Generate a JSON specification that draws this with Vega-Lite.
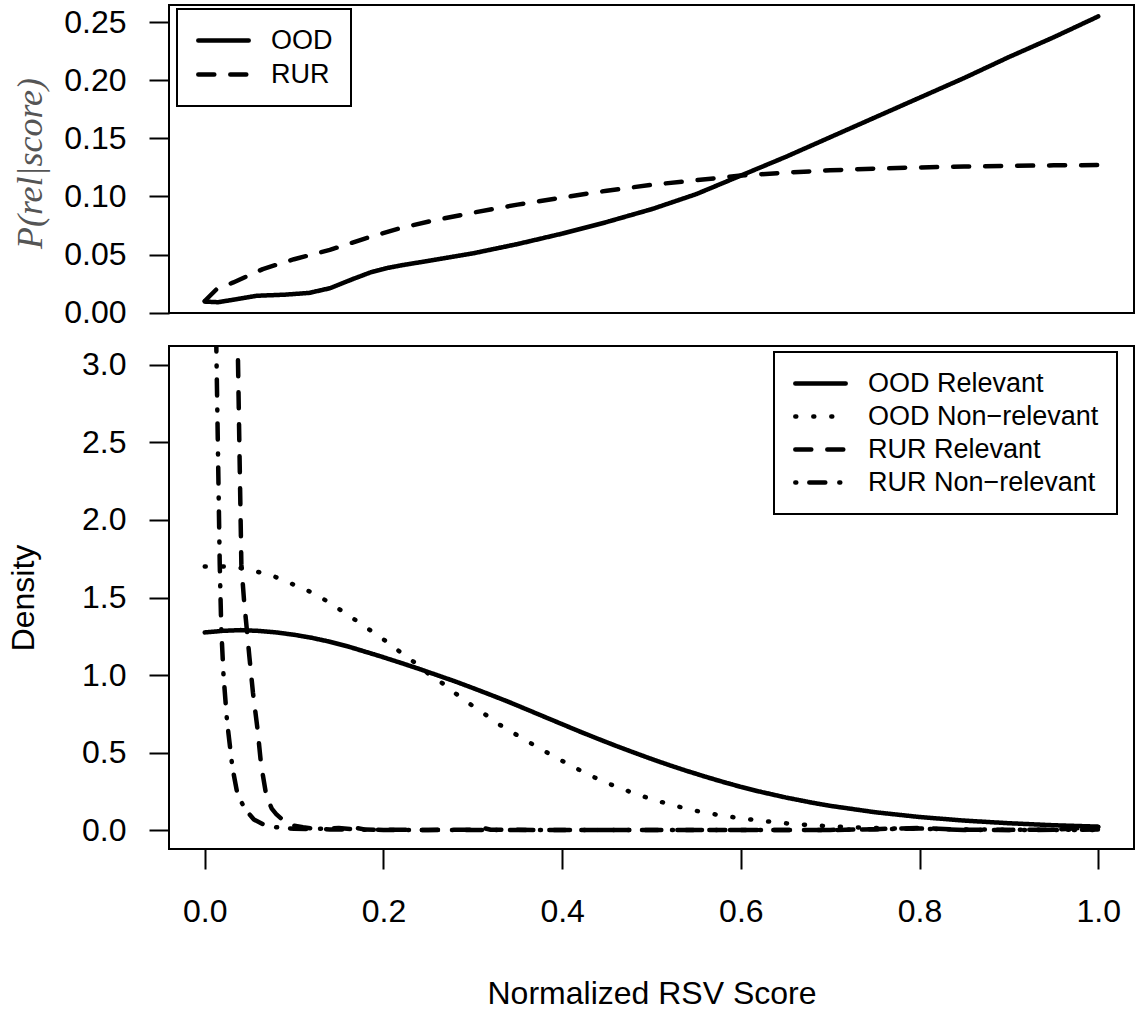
{
  "$schema": "https://vega.github.io/schema/vega-lite/v6.json",
  "padding": {"left": 6, "top": 4, "right": 4, "bottom": 0},
  "background": "white",
  "spacing": 15,
  "config": {
    "view": {"stroke": "black", "strokeWidth": 2},
    "font": "Liberation Sans",
    "axis": {
      "labelFont": "Liberation Sans", "labelFontSize": 32, "labelColor": "black",
      "tickColor": "black", "tickWidth": 2, "tickSize": 20, "domain": false, "grid": false,
      "titleFont": "Liberation Sans", "titleFontSize": 32, "titleFontWeight": "normal", "titleColor": "black",
      "labelFlush": false, "labelOverlap": false, "labelBound": false
    },
    "legend": {
      "title": null, "strokeColor": "black", "padding": 18,
      "symbolType": "M-3.6,0H3.6", "symbolSize": 196, "symbolStrokeWidth": 4.5,
      "symbolStrokeColor": "black", "symbolFillColor": "transparent",
      "symbolOffset": 15, "labelOffset": 34, "labelFontSize": 27, "labelFont": "Liberation Sans",
      "labelColor": "black", "labelLimit": 0, "rowPadding": 6, "orient": "none"
    }
  },
  "resolve": {"scale": {"strokeDash": "independent", "x": "independent", "y": "independent"}, "legend": {"strokeDash": "independent"}},
  "datasets": {
    "prob": [
      {"score": 0, "p": 0.0095, "method": "OOD"},
      {"score": 0.015, "p": 0.009, "method": "OOD"},
      {"score": 0.035, "p": 0.0115, "method": "OOD"},
      {"score": 0.058, "p": 0.0145, "method": "OOD"},
      {"score": 0.09, "p": 0.0155, "method": "OOD"},
      {"score": 0.117, "p": 0.017, "method": "OOD"},
      {"score": 0.14, "p": 0.021, "method": "OOD"},
      {"score": 0.166, "p": 0.029, "method": "OOD"},
      {"score": 0.185, "p": 0.0345, "method": "OOD"},
      {"score": 0.205, "p": 0.0385, "method": "OOD"},
      {"score": 0.222, "p": 0.041, "method": "OOD"},
      {"score": 0.25, "p": 0.0445, "method": "OOD"},
      {"score": 0.3, "p": 0.051, "method": "OOD"},
      {"score": 0.35, "p": 0.059, "method": "OOD"},
      {"score": 0.4, "p": 0.068, "method": "OOD"},
      {"score": 0.45, "p": 0.078, "method": "OOD"},
      {"score": 0.5, "p": 0.089, "method": "OOD"},
      {"score": 0.55, "p": 0.102, "method": "OOD"},
      {"score": 0.6, "p": 0.118, "method": "OOD"},
      {"score": 0.65, "p": 0.134, "method": "OOD"},
      {"score": 0.7, "p": 0.151, "method": "OOD"},
      {"score": 0.75, "p": 0.168, "method": "OOD"},
      {"score": 0.8, "p": 0.185, "method": "OOD"},
      {"score": 0.85, "p": 0.202, "method": "OOD"},
      {"score": 0.9, "p": 0.22, "method": "OOD"},
      {"score": 0.95, "p": 0.237, "method": "OOD"},
      {"score": 1.0, "p": 0.255, "method": "OOD"},
      {"score": 0, "p": 0.01, "method": "RUR"},
      {"score": 0.013, "p": 0.02, "method": "RUR"},
      {"score": 0.032, "p": 0.026, "method": "RUR"},
      {"score": 0.065, "p": 0.0375, "method": "RUR"},
      {"score": 0.1, "p": 0.046, "method": "RUR"},
      {"score": 0.14, "p": 0.054, "method": "RUR"},
      {"score": 0.18, "p": 0.064, "method": "RUR"},
      {"score": 0.22, "p": 0.073, "method": "RUR"},
      {"score": 0.26, "p": 0.08, "method": "RUR"},
      {"score": 0.3, "p": 0.086, "method": "RUR"},
      {"score": 0.35, "p": 0.093, "method": "RUR"},
      {"score": 0.4, "p": 0.099, "method": "RUR"},
      {"score": 0.45, "p": 0.105, "method": "RUR"},
      {"score": 0.5, "p": 0.11, "method": "RUR"},
      {"score": 0.55, "p": 0.114, "method": "RUR"},
      {"score": 0.6, "p": 0.118, "method": "RUR"},
      {"score": 0.65, "p": 0.1205, "method": "RUR"},
      {"score": 0.7, "p": 0.1225, "method": "RUR"},
      {"score": 0.75, "p": 0.124, "method": "RUR"},
      {"score": 0.8, "p": 0.125, "method": "RUR"},
      {"score": 0.85, "p": 0.1258, "method": "RUR"},
      {"score": 0.9, "p": 0.1263, "method": "RUR"},
      {"score": 0.95, "p": 0.1268, "method": "RUR"},
      {"score": 1.0, "p": 0.127, "method": "RUR"}
    ],
    "dens": [
      {"score": 0, "density": 1.275, "series": "OOD Relevant"},
      {"score": 0.02, "density": 1.285, "series": "OOD Relevant"},
      {"score": 0.04, "density": 1.29, "series": "OOD Relevant"},
      {"score": 0.06, "density": 1.285, "series": "OOD Relevant"},
      {"score": 0.08, "density": 1.275, "series": "OOD Relevant"},
      {"score": 0.1, "density": 1.26, "series": "OOD Relevant"},
      {"score": 0.12, "density": 1.24, "series": "OOD Relevant"},
      {"score": 0.14, "density": 1.215, "series": "OOD Relevant"},
      {"score": 0.16, "density": 1.185, "series": "OOD Relevant"},
      {"score": 0.18, "density": 1.15, "series": "OOD Relevant"},
      {"score": 0.2, "density": 1.115, "series": "OOD Relevant"},
      {"score": 0.22, "density": 1.078, "series": "OOD Relevant"},
      {"score": 0.24, "density": 1.04, "series": "OOD Relevant"},
      {"score": 0.26, "density": 1.0, "series": "OOD Relevant"},
      {"score": 0.28, "density": 0.96, "series": "OOD Relevant"},
      {"score": 0.3, "density": 0.917, "series": "OOD Relevant"},
      {"score": 0.32, "density": 0.873, "series": "OOD Relevant"},
      {"score": 0.34, "density": 0.828, "series": "OOD Relevant"},
      {"score": 0.36, "density": 0.78, "series": "OOD Relevant"},
      {"score": 0.38, "density": 0.732, "series": "OOD Relevant"},
      {"score": 0.4, "density": 0.684, "series": "OOD Relevant"},
      {"score": 0.42, "density": 0.636, "series": "OOD Relevant"},
      {"score": 0.44, "density": 0.59, "series": "OOD Relevant"},
      {"score": 0.46, "density": 0.545, "series": "OOD Relevant"},
      {"score": 0.48, "density": 0.502, "series": "OOD Relevant"},
      {"score": 0.5, "density": 0.46, "series": "OOD Relevant"},
      {"score": 0.52, "density": 0.42, "series": "OOD Relevant"},
      {"score": 0.54, "density": 0.382, "series": "OOD Relevant"},
      {"score": 0.56, "density": 0.346, "series": "OOD Relevant"},
      {"score": 0.58, "density": 0.312, "series": "OOD Relevant"},
      {"score": 0.6, "density": 0.28, "series": "OOD Relevant"},
      {"score": 0.62, "density": 0.251, "series": "OOD Relevant"},
      {"score": 0.65, "density": 0.212, "series": "OOD Relevant"},
      {"score": 0.68, "density": 0.178, "series": "OOD Relevant"},
      {"score": 0.7, "density": 0.158, "series": "OOD Relevant"},
      {"score": 0.75, "density": 0.117, "series": "OOD Relevant"},
      {"score": 0.8, "density": 0.086, "series": "OOD Relevant"},
      {"score": 0.85, "density": 0.063, "series": "OOD Relevant"},
      {"score": 0.9, "density": 0.046, "series": "OOD Relevant"},
      {"score": 0.95, "density": 0.033, "series": "OOD Relevant"},
      {"score": 1.0, "density": 0.024, "series": "OOD Relevant"},
      {"score": 0, "density": 1.7, "series": "OOD Non−relevant"},
      {"score": 0.02, "density": 1.7, "series": "OOD Non−relevant"},
      {"score": 0.04, "density": 1.69, "series": "OOD Non−relevant"},
      {"score": 0.056, "density": 1.67, "series": "OOD Non−relevant"},
      {"score": 0.075, "density": 1.643, "series": "OOD Non−relevant"},
      {"score": 0.092, "density": 1.6, "series": "OOD Non−relevant"},
      {"score": 0.11, "density": 1.56, "series": "OOD Non−relevant"},
      {"score": 0.127, "density": 1.51, "series": "OOD Non−relevant"},
      {"score": 0.143, "density": 1.455, "series": "OOD Non−relevant"},
      {"score": 0.158, "density": 1.395, "series": "OOD Non−relevant"},
      {"score": 0.174, "density": 1.334, "series": "OOD Non−relevant"},
      {"score": 0.19, "density": 1.27, "series": "OOD Non−relevant"},
      {"score": 0.205, "density": 1.21, "series": "OOD Non−relevant"},
      {"score": 0.22, "density": 1.143, "series": "OOD Non−relevant"},
      {"score": 0.236, "density": 1.077, "series": "OOD Non−relevant"},
      {"score": 0.25, "density": 1.01, "series": "OOD Non−relevant"},
      {"score": 0.266, "density": 0.948, "series": "OOD Non−relevant"},
      {"score": 0.281, "density": 0.881, "series": "OOD Non−relevant"},
      {"score": 0.296, "density": 0.817, "series": "OOD Non−relevant"},
      {"score": 0.312, "density": 0.755, "series": "OOD Non−relevant"},
      {"score": 0.327, "density": 0.691, "series": "OOD Non−relevant"},
      {"score": 0.35, "density": 0.612, "series": "OOD Non−relevant"},
      {"score": 0.375, "density": 0.527, "series": "OOD Non−relevant"},
      {"score": 0.4, "density": 0.448, "series": "OOD Non−relevant"},
      {"score": 0.42, "density": 0.387, "series": "OOD Non−relevant"},
      {"score": 0.443, "density": 0.322, "series": "OOD Non−relevant"},
      {"score": 0.46, "density": 0.283, "series": "OOD Non−relevant"},
      {"score": 0.479, "density": 0.242, "series": "OOD Non−relevant"},
      {"score": 0.497, "density": 0.207, "series": "OOD Non−relevant"},
      {"score": 0.515, "density": 0.176, "series": "OOD Non−relevant"},
      {"score": 0.533, "density": 0.149, "series": "OOD Non−relevant"},
      {"score": 0.551, "density": 0.125, "series": "OOD Non−relevant"},
      {"score": 0.57, "density": 0.104, "series": "OOD Non−relevant"},
      {"score": 0.589, "density": 0.087, "series": "OOD Non−relevant"},
      {"score": 0.607, "density": 0.073, "series": "OOD Non−relevant"},
      {"score": 0.626, "density": 0.06, "series": "OOD Non−relevant"},
      {"score": 0.645, "density": 0.048, "series": "OOD Non−relevant"},
      {"score": 0.664, "density": 0.039, "series": "OOD Non−relevant"},
      {"score": 0.683, "density": 0.032, "series": "OOD Non−relevant"},
      {"score": 0.7, "density": 0.026, "series": "OOD Non−relevant"},
      {"score": 0.75, "density": 0.015, "series": "OOD Non−relevant"},
      {"score": 0.8, "density": 0.009, "series": "OOD Non−relevant"},
      {"score": 0.85, "density": 0.006, "series": "OOD Non−relevant"},
      {"score": 0.9, "density": 0.004, "series": "OOD Non−relevant"},
      {"score": 0.95, "density": 0.003, "series": "OOD Non−relevant"},
      {"score": 1.0, "density": 0.002, "series": "OOD Non−relevant"},
      {"score": 0, "density": 9, "series": "RUR Relevant"},
      {"score": 0.01, "density": 8.5, "series": "RUR Relevant"},
      {"score": 0.02, "density": 7.2, "series": "RUR Relevant"},
      {"score": 0.03, "density": 4.8, "series": "RUR Relevant"},
      {"score": 0.035, "density": 3.5, "series": "RUR Relevant"},
      {"score": 0.037, "density": 3.1, "series": "RUR Relevant"},
      {"score": 0.039, "density": 2.4, "series": "RUR Relevant"},
      {"score": 0.041, "density": 1.71, "series": "RUR Relevant"},
      {"score": 0.044, "density": 1.48, "series": "RUR Relevant"},
      {"score": 0.047, "density": 1.3, "series": "RUR Relevant"},
      {"score": 0.05, "density": 1.116, "series": "RUR Relevant"},
      {"score": 0.054, "density": 0.885, "series": "RUR Relevant"},
      {"score": 0.059, "density": 0.656, "series": "RUR Relevant"},
      {"score": 0.063, "density": 0.427, "series": "RUR Relevant"},
      {"score": 0.069, "density": 0.22, "series": "RUR Relevant"},
      {"score": 0.075, "density": 0.14, "series": "RUR Relevant"},
      {"score": 0.08, "density": 0.105, "series": "RUR Relevant"},
      {"score": 0.091, "density": 0.048, "series": "RUR Relevant"},
      {"score": 0.1, "density": 0.03, "series": "RUR Relevant"},
      {"score": 0.11, "density": 0.02, "series": "RUR Relevant"},
      {"score": 0.12, "density": 0.012, "series": "RUR Relevant"},
      {"score": 0.13, "density": 0.01, "series": "RUR Relevant"},
      {"score": 0.14, "density": 0.006, "series": "RUR Relevant"},
      {"score": 0.16, "density": 0.005, "series": "RUR Relevant"},
      {"score": 0.17, "density": 0.015, "series": "RUR Relevant"},
      {"score": 0.18, "density": 0.005, "series": "RUR Relevant"},
      {"score": 0.2, "density": 0.004, "series": "RUR Relevant"},
      {"score": 0.25, "density": 0.003, "series": "RUR Relevant"},
      {"score": 0.3, "density": 0.004, "series": "RUR Relevant"},
      {"score": 0.31, "density": 0.018, "series": "RUR Relevant"},
      {"score": 0.32, "density": 0.004, "series": "RUR Relevant"},
      {"score": 0.4, "density": 0.002, "series": "RUR Relevant"},
      {"score": 0.5, "density": 0.002, "series": "RUR Relevant"},
      {"score": 0.6, "density": 0.002, "series": "RUR Relevant"},
      {"score": 0.7, "density": 0.002, "series": "RUR Relevant"},
      {"score": 0.75, "density": 0.008, "series": "RUR Relevant"},
      {"score": 0.8, "density": 0.015, "series": "RUR Relevant"},
      {"score": 0.85, "density": 0.004, "series": "RUR Relevant"},
      {"score": 0.9, "density": 0.003, "series": "RUR Relevant"},
      {"score": 0.95, "density": 0.005, "series": "RUR Relevant"},
      {"score": 1.0, "density": 0.02, "series": "RUR Relevant"},
      {"score": 0, "density": 20, "series": "RUR Non−relevant"},
      {"score": 0.005, "density": 12, "series": "RUR Non−relevant"},
      {"score": 0.01, "density": 5, "series": "RUR Non−relevant"},
      {"score": 0.013, "density": 3.1, "series": "RUR Non−relevant"},
      {"score": 0.0168, "density": 1.71, "series": "RUR Non−relevant"},
      {"score": 0.0185, "density": 1.3, "series": "RUR Non−relevant"},
      {"score": 0.021, "density": 1.0, "series": "RUR Non−relevant"},
      {"score": 0.025, "density": 0.7, "series": "RUR Non−relevant"},
      {"score": 0.031, "density": 0.405, "series": "RUR Non−relevant"},
      {"score": 0.037, "density": 0.22, "series": "RUR Non−relevant"},
      {"score": 0.047, "density": 0.124, "series": "RUR Non−relevant"},
      {"score": 0.055, "density": 0.07, "series": "RUR Non−relevant"},
      {"score": 0.065, "density": 0.04, "series": "RUR Non−relevant"},
      {"score": 0.08, "density": 0.02, "series": "RUR Non−relevant"},
      {"score": 0.1, "density": 0.01, "series": "RUR Non−relevant"},
      {"score": 0.12, "density": 0.008, "series": "RUR Non−relevant"},
      {"score": 0.15, "density": 0.015, "series": "RUR Non−relevant"},
      {"score": 0.17, "density": 0.005, "series": "RUR Non−relevant"},
      {"score": 0.2, "density": 0.003, "series": "RUR Non−relevant"},
      {"score": 0.3, "density": 0.002, "series": "RUR Non−relevant"},
      {"score": 0.4, "density": 0.002, "series": "RUR Non−relevant"},
      {"score": 0.5, "density": 0.002, "series": "RUR Non−relevant"},
      {"score": 0.6, "density": 0.002, "series": "RUR Non−relevant"},
      {"score": 0.7, "density": 0.003, "series": "RUR Non−relevant"},
      {"score": 0.8, "density": 0.012, "series": "RUR Non−relevant"},
      {"score": 0.85, "density": 0.003, "series": "RUR Non−relevant"},
      {"score": 0.9, "density": 0.002, "series": "RUR Non−relevant"},
      {"score": 1.0, "density": 0.005, "series": "RUR Non−relevant"}
    ]
  },
  "vconcat": [
    {
      "width": 965,
      "height": 308,
      "data": {"name": "prob"},
      "mark": {"type": "line", "strokeWidth": 4.5, "strokeCap": "round", "strokeJoin": "round", "color": "black", "clip": true},
      "encoding": {
        "x": {"field": "score", "type": "quantitative", "scale": {"domain": [-0.04, 1.04], "nice": false, "zero": false}, "axis": null},
        "y": {
          "field": "p", "type": "quantitative",
          "scale": {"domain": [-0.0003, 0.2648], "nice": false, "zero": false},
          "axis": {
            "values": [0, 0.05, 0.1, 0.15, 0.2, 0.25], "format": ".2f", "labelPadding": 23,
            "title": "P(rel|score)", "titleFont": "Liberation Serif", "titleFontStyle": "italic",
            "titleColor": "#555555", "titleFontSize": 36, "titleX": -128, "titleY": 158,
            "titleAngle": -90, "titleBaseline": "alphabetic", "titleAlign": "center"
          }
        },
        "strokeDash": {
          "field": "method", "type": "nominal",
          "scale": {"domain": ["OOD", "RUR"], "range": [[1, 0], [16, 16]]},
          "legend": {
            "legendX": 8, "legendY": 4,
            "encode": {"symbols": {"update": {"strokeCap": {"value": "round"}}}, "legend": {"update": {"strokeWidth": {"value": 2}}}}
          }
        }
      }
    },
    {
      "width": 965,
      "height": 503,
      "layer": [
        {
          "mark": {"type": "rule", "color": "#d3d3d3", "strokeWidth": 2},
          "encoding": {"y": {"datum": 0, "type": "quantitative"}}
        },
        {
          "data": {"name": "dens"},
          "mark": {"type": "line", "strokeWidth": 4.5, "strokeCap": "round", "strokeJoin": "round", "color": "black", "clip": true},
          "encoding": {
            "x": {
              "field": "score", "type": "quantitative",
              "scale": {"domain": [-0.04, 1.04], "nice": false, "zero": false},
              "axis": {"values": [0, 0.2, 0.4, 0.6, 0.8, 1.0], "format": ".1f", "labelPadding": 27,
                       "title": "Normalized RSV Score", "titleY": 154, "titleBaseline": "alphabetic"}
            },
            "y": {
              "field": "density", "type": "quantitative",
              "scale": {"domain": [-0.12, 3.12], "nice": false, "zero": false},
              "axis": {"values": [0, 0.5, 1, 1.5, 2, 2.5, 3], "format": ".1f", "labelPadding": 23,
                       "title": "Density", "titleX": -136, "titleAngle": -90, "titleBaseline": "alphabetic", "titleAlign": "center"}
            },
            "strokeDash": {
              "field": "series", "type": "nominal",
              "scale": {"domain": ["OOD Relevant", "OOD Non−relevant", "RUR Relevant", "RUR Non−relevant"],
                        "range": [[1, 0], [1, 17], [16, 16], [1, 13, 16, 14]]},
              "legend": {
                "legendX": 605, "legendY": 6, "rowPadding": 5,
                "encode": {"symbols": {"update": {"strokeCap": {"value": "round"}}}, "legend": {"update": {"strokeWidth": {"value": 2}}}}
              }
            }
          }
        }
      ]
    }
  ]
}
